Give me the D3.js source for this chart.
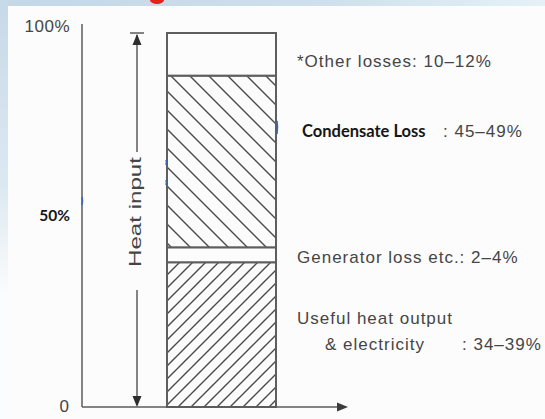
<!doctype html>
<html lang="en">
<head>
<meta charset="utf-8">
<title>Heat input balance</title>
<style>
html, body {
	margin: 0;
	padding: 0;
	width: 100%;
	height: 100%;
	overflow: hidden;
	background: #fcfcfc;
}
svg { display: block; }
.lbl {
	font-family: 'Liberation Sans', Arial, sans-serif;
	font-size: 17px;
	fill: #454545;
	letter-spacing: 1px;
}
.bold {
	font-family: Lato, 'Open Sans', sans-serif;
	font-weight: 700;
	font-size: 16.5px;
	fill: #161616;
	letter-spacing: 0;
}
.ln {
	stroke: #5c5c5c;
	stroke-width: 1.5;
	fill: none;
}
.blue {
	stroke: #3b67b3;
	stroke-width: 1.6;
	fill: none;
}
</style>
</head>
<body>
<div id="container"></div>
<script src="https://cdnjs.cloudflare.com/ajax/libs/d3/7.8.5/d3.min.js"></script>
<script>
(function (d3) {
	'use strict';

	/* DATA */

	// bottom to top, as stacked in the bar
	var categories = ['Useful heat output & electricity', 'Generator loss etc.', 'Condensate Loss', 'Other losses'];
	var shares = [38.7, 4.0, 45.9, 11.4]; // % of heat input, as drawn
	var ranges = ['34–39%', '2–4%', '45–49%', '10–12%'];
	var tickValues = [0, 50, 100];
	var tickLabels = ['0', '50%', '100%'];

	/* CONST */

	var W = 545, H = 419;
	var AXIS_X = 82;
	var LABEL_X = 297;

	var y = d3.scaleLinear().domain([0, 100]).range([407, 33]);
	var x = d3.scaleBand().domain(['Heat input']).range([167, 276]);

	var ends = d3.cumsum(shares);
	var segs = categories.map(function (c, i) {
		return { name: c, y0: ends[i] - shares[i], y1: ends[i], range: ranges[i], i: i };
	});

	var svg = d3.select('#container').append('svg')
		.attr('width', W)
		.attr('height', H);

	var defs = svg.append('defs');

	/* BACKGROUND (slide frame) */

	var gTop = defs.append('linearGradient').attr('id', 'gTop');
	gTop.append('stop').attr('offset', '0').attr('stop-color', '#c3d7e7');
	gTop.append('stop').attr('offset', '0.6').attr('stop-color', '#cfe0ec');
	gTop.append('stop').attr('offset', '1').attr('stop-color', '#e4f1f7');

	var gLeft = defs.append('linearGradient').attr('id', 'gLeft')
		.attr('x1', 0).attr('y1', 0).attr('x2', 0).attr('y2', 1);
	gLeft.append('stop').attr('offset', '0').attr('stop-color', '#c6d9e8');
	gLeft.append('stop').attr('offset', '0.45').attr('stop-color', '#dde9f1');
	gLeft.append('stop').attr('offset', '0.7').attr('stop-color', '#fafcfd');

	svg.append('rect').attr('width', W).attr('height', H).attr('fill', '#fcfcfc');
	svg.append('rect').attr('width', W).attr('height', 6).attr('fill', 'url(#gTop)');
	svg.append('rect').attr('width', 8).attr('height', H).attr('fill', 'url(#gLeft)');
	svg.append('ellipse').attr('cx', 157).attr('cy', 0).attr('rx', 7).attr('ry', 4).attr('fill', '#e3231b');

	/* HATCHES */

	var hatch = function (id, step, up) {
		var p = defs.append('pattern')
			.attr('id', id)
			.attr('patternUnits', 'userSpaceOnUse')
			.attr('width', step)
			.attr('height', step);
		p.append('rect').attr('width', step).attr('height', step).attr('fill', '#fbfbfb');
		var d = up
			? 'M-2,2 l4,-4 M0,' + step + ' l' + step + ',' + (-step) + ' M' + (step - 2) + ',' + (step + 2) + ' l4,-4'
			: 'M-2,' + (step - 2) + ' l4,4 M0,0 l' + step + ',' + step + ' M' + (step - 2) + ',-2 l4,4';
		p.append('path').attr('d', d).attr('stroke', '#4a4a4a').attr('stroke-width', 1.4);
	};
	hatch('hUp', 13, true);
	hatch('hDown', 19, false);

	var fillOf = function (d) {
		if (d.i === 0) { return 'url(#hUp)'; }
		if (d.i === 2) { return 'url(#hDown)'; }
		return '#fcfcfc';
	};

	/* BAR */

	svg.append('g').selectAll('rect')
		.data(segs).enter()
		.append('rect')
		.attr('x', x('Heat input'))
		.attr('width', x.bandwidth())
		.attr('y', function (d) { return y(d.y1); })
		.attr('height', function (d) { return y(d.y0) - y(d.y1); })
		.attr('fill', fillOf)
		.attr('stroke', '#5e5e5e')
		.attr('stroke-width', 2);

	/* AXES */

	svg.append('line').attr('class', 'ln')
		.attr('x1', AXIS_X).attr('x2', AXIS_X)
		.attr('y1', y(100) - 9).attr('y2', y(0));
	svg.append('line').attr('class', 'ln')
		.attr('x1', AXIS_X).attr('x2', 342)
		.attr('y1', y(0)).attr('y2', y(0));
	svg.append('path')
		.attr('d', 'M348,' + y(0) + ' l-11,-4.5 l0,9 z')
		.attr('fill', '#3c3c3c');

	var yAxis = d3.axisLeft(y)
		.tickValues(tickValues)
		.tickFormat(function (d, i) { return tickLabels[i]; })
		.tickSize(0)
		.tickPadding(12);

	var ga = svg.append('g')
		.attr('transform', 'translate(' + AXIS_X + ',0)')
		.call(yAxis);
	ga.select('.domain').remove();
	ga.selectAll('text')
		.attr('font-family', null)
		.attr('font-size', null)
		.attr('fill', null)
		.attr('class', function (d) { return d === 50 ? 'bold' : 'lbl'; })
		.style('letter-spacing', function (d) { return d === 100 ? '0.5px' : null; })
		.style('font-size', function (d) { return d === 50 ? '15.5px' : null; })
		.attr('dy', function (d) {
			if (d === 100) { return '-0.1em'; }
			if (d === 50) { return '0.0em'; }
			return '0.28em';
		});

	/* HEAT INPUT ARROW */

	var ax = 137;
	svg.append('line').attr('class', 'ln')
		.attr('x1', ax - 7).attr('x2', ax + 7)
		.attr('y1', y(100)).attr('y2', y(100));
	svg.append('line').attr('class', 'ln')
		.attr('x1', ax).attr('x2', ax)
		.attr('y1', y(100) + 2).attr('y2', 152);
	svg.append('line').attr('class', 'ln')
		.attr('x1', ax).attr('x2', ax)
		.attr('y1', 290).attr('y2', y(0) - 2);
	svg.append('path')
		.attr('d', 'M' + ax + ',' + (y(100) + 1) + ' l-4.5,11 l9,0 z')
		.attr('fill', '#2e2e2e');
	svg.append('path')
		.attr('d', 'M' + ax + ',' + y(0) + ' l-4.5,-11 l9,0 z')
		.attr('fill', '#2e2e2e');
	svg.append('text')
		.attr('class', 'lbl')
		.attr('transform', 'translate(' + (ax + 4) + ',212) rotate(-90)')
		.attr('text-anchor', 'middle')
		.attr('textLength', 110)
		.attr('lengthAdjust', 'spacingAndGlyphs')
		.style('letter-spacing', '0')
		.text('Heat input');

	/* LABELS */

	var top = function (i) { return y(segs[i].y1); };

	svg.append('text').attr('class', 'lbl')
		.attr('x', LABEL_X).attr('y', top(3) + 34)
		.text('*' + categories[3] + ': ' + ranges[3]);

	svg.append('text').attr('class', 'bold')
		.attr('x', LABEL_X + 5).attr('y', top(2) + 61)
		.text(categories[2]);
	svg.append('text').attr('class', 'lbl')
		.attr('x', 443).attr('y', top(2) + 61)
		.text(': ' + ranges[2]);

	svg.append('text').attr('class', 'lbl')
		.attr('x', LABEL_X).attr('y', top(1) + 16)
		.text(categories[1] + ': ' + ranges[1]);

	var useful = categories[0].split(' & ');
	svg.append('text').attr('class', 'lbl')
		.attr('x', LABEL_X).attr('y', top(0) + 62)
		.text(useful[0]);
	svg.append('text').attr('class', 'lbl')
		.attr('x', LABEL_X + 28).attr('y', top(0) + 88)
		.text('& ' + useful[1]);
	svg.append('text').attr('class', 'lbl')
		.attr('x', 462).attr('y', top(0) + 88)
		.text(': ' + ranges[0]);

	/* PEN MARKS (blue scribbles on the scan) */

	var marks = [
		'M82,197 q1,4 0,8',
		'M166,160 q1,2 0,5',
		'M166,180 q1,2 0,5',
		'M277,121 q1,6 0,13'
	];
	svg.append('g').selectAll('path')
		.data(marks).enter()
		.append('path')
		.attr('class', 'blue')
		.attr('d', function (d) { return d; });

})(window.d3);
</script>
</body>
</html>
